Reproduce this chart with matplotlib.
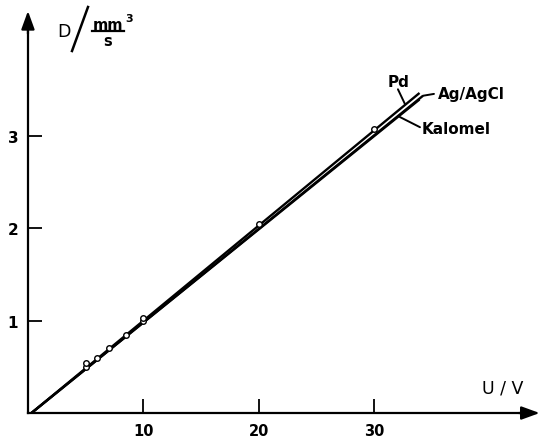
import matplotlib.pyplot as plt
from matplotlib.lines import Line2D

# measured points, U in V and D in mm^3/s
u_pts = [5, 5, 6, 7, 8.5, 10, 10, 20, 30]
d_pts = [0.50, 0.54, 0.59, 0.70, 0.84, 0.99, 1.03, 2.04, 3.07]

# straight lines for the three electrodes (start / end)
line_names = ['Pd', 'Ag/AgCl', 'Kalomel']
line_u = [[0.3, 33.9], [0.3, 34.2], [0.3, 33.9]]
line_d = [[0.0, 3.46], [0.0, 3.43], [0.0, 3.39]]

x_ticks = [10, 20, 30]
y_ticks = [1, 2, 3]

W, H = 540, 439
fig = plt.figure(figsize=(W / 100, H / 100), dpi=100)
ax = fig.add_axes([0, 0, 1, 1])
ax.set_xlim(-2.42, 44.33)
ax.set_ylim(-0.27, 4.476)

# axes through the origin
for s in ['top', 'right']:
    ax.spines[s].set_visible(False)
ax.spines['left'].set_position(('data', 0))
ax.spines['bottom'].set_position(('data', 0))
ax.spines['left'].set_bounds(0, 4.25)
ax.spines['bottom'].set_bounds(0, 43.5)
ax.spines['left'].set_linewidth(1.6)
ax.spines['bottom'].set_linewidth(1.6)
ax.set_xticks(x_ticks)
ax.set_yticks(y_ticks)
ax.tick_params(direction='in', length=10, width=1.3)
ax.tick_params(axis='x', pad=7, labelsize=10.5)
ax.tick_params(axis='y', pad=7, labelsize=11)
for lab in ax.get_xticklabels() + ax.get_yticklabels():
    lab.set_fontweight('bold')

# arrow heads
arr = dict(arrowstyle='-|>,head_length=1.1,head_width=0.4', color='k', lw=1.6,
           mutation_scale=10, shrinkA=0, shrinkB=0)
ax.annotate('', xy=(44.3, 0), xytext=(42.5, 0), arrowprops=arr, annotation_clip=False)
ax.annotate('', xy=(0, 4.346), xytext=(0, 4.1), arrowprops=arr, annotation_clip=False)

# the lines
for uu, dd in zip(line_u, line_d):
    ax.plot(uu, dd, color='k', lw=1.7, solid_capstyle='butt')

ax.plot(u_pts, d_pts, 'o', ms=4, mfc='white', mec='k', mew=1.0, zorder=5)

# labels with leader lines
lead = dict(arrowstyle='-', color='k', lw=1.4, shrinkA=0, shrinkB=0)
ax.annotate('', xy=(32.64, 3.34), xytext=(32.03, 3.50), arrowprops=lead)
ax.text(32.12, 3.58, line_names[0], fontsize=11, fontweight='bold', ha='center', va='center')
ax.annotate('', xy=(34.2, 3.43), xytext=(35.15, 3.45), arrowprops=lead)
ax.text(35.5, 3.45, line_names[1], fontsize=11, fontweight='bold', ha='left', va='center')
ax.annotate('', xy=(32.2, 3.20), xytext=(33.94, 3.09), arrowprops=lead)
ax.text(34.1, 3.08, line_names[2], fontsize=11, fontweight='bold', ha='left', va='center')

# axis labels
def px(x, y):
    return x / W, 1 - y / H

fig.text(*px(64, 32), 'D', fontsize=12.5, ha='center', va='center')
fig.add_artist(Line2D([72 / W, 88 / W], [1 - 52 / H, 1 - 8 / H], color='k', lw=1.8))
fig.text(*px(107.5, 25), 'mm', fontsize=10.5, fontweight='bold', ha='center', va='center')
fig.text(*px(129, 19), '3', fontsize=8, fontweight='bold', ha='center', va='center')
fig.add_artist(Line2D([92 / W, 124 / W], [1 - 32 / H, 1 - 32 / H], color='k', lw=1.6))
fig.text(*px(107.5, 41), 's', fontsize=10.5, fontweight='bold', ha='center', va='center')
fig.text(*px(503, 389), 'U / V', fontsize=12.5, ha='center', va='center')

fig.savefig('out.png', dpi=100)
